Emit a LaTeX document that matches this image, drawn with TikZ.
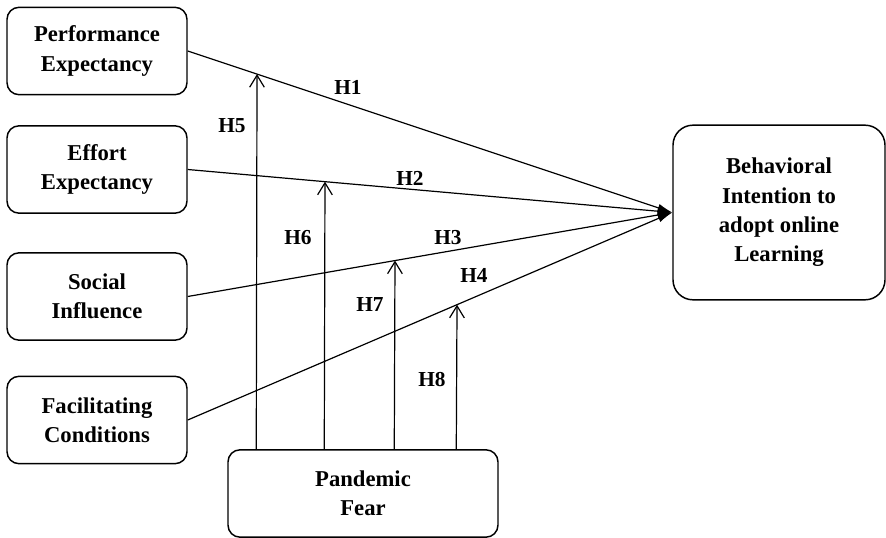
\documentclass[tikz,border=0pt]{standalone}
\usepackage{fontspec}
\setmainfont{Liberation Serif}
\usetikzlibrary{arrows.meta}

\tikzset{every picture/.style={line width=0.9pt}}
\tikzset{
  construct/.style={draw, line width=1.1pt, rounded corners=9pt, align=center, inner sep=0.75pt,
    minimum width=135pt, minimum height=65.5pt, font=\bfseries\fontsize{17}{22}\selectfont},
  hyp/.style={inner sep=0.75pt, font=\bfseries\fontsize{16}{19}\selectfont},
  direct/.style={-{Latex[length=11pt,width=6pt]}},
  moderate/.style={-{Straight Barb[length=9pt,width=11pt]}}
}

\begin{document}
\begin{tikzpicture}[x=0.75pt,y=0.75pt,yscale=-1,xscale=1]
\path[use as bounding box] (0,0) rectangle (886,538);

%Shape: Rounded Rect [id:pe]
\node[construct] (pe) at (97,51) {Performance\\Expectancy};
%Shape: Rounded Rect [id:ee]
\node[construct] (ee) at (97,169.5) {Effort\\Expectancy};
%Shape: Rounded Rect [id:si]
\node[construct] (si) at (97,296.5) {Social\\Influence};
%Shape: Rounded Rect [id:fc]
\node[construct] (fc) at (97,420) {Facilitating\\Conditions};
%Shape: Rounded Rect [id:pf]
\node[construct, minimum width=202.5pt] (pf) at (363,493.5) {Pandemic\\Fear};
%Shape: Rounded Rect [id:bi]
\node[construct, rounded corners=15pt, minimum width=159pt, minimum height=131pt] (bi) at (779,212.5) {Behavioral\\Intention to\\adopt online\\Learning};

%Straight Lines [id:h1]
\draw[direct] (pe.east) -- (bi.west);
%Straight Lines [id:h2]
\draw[direct] (ee.east) -- (bi.west);
%Straight Lines [id:h3]
\draw[direct] (si.east) -- (bi.west);
%Straight Lines [id:h4]
\draw[direct] (fc.east) -- (bi.west);

%Tips of the moderating arrows
\coordinate (h5tip) at (intersection of pe.east--bi.west and 257,0--257,450);
\coordinate (h6tip) at (intersection of ee.east--bi.west and 325,0--325,450);
\coordinate (h7tip) at (intersection of si.east--bi.west and 395,0--395,450);
\coordinate (h8tip) at (intersection of fc.east--bi.west and 457,0--457,450);

%Straight Lines [id:h5]
\draw[moderate] ([xshift=21.75pt]pf.north west) -- (h5tip);
%Straight Lines [id:h6]
\draw[moderate] ([xshift=72.75pt]pf.north west) -- (h6tip);
%Straight Lines [id:h7]
\draw[moderate] ([xshift=125.25pt]pf.north west) -- (h7tip);
%Straight Lines [id:h8]
\draw[moderate] ([xshift=171.75pt]pf.north west) -- (h8tip);

% Text Node
\node[hyp] (lh1) at (348,87) {H1};
% Text Node
\node[hyp] (lh2) at (410,178) {H2};
% Text Node
\node[hyp] (lh3) at (448,238) {H3};
% Text Node
\node[hyp] (lh4) at (474,275) {H4};
% Text Node
\node[hyp] (lh5) at (232,126) {H5};
% Text Node
\node[hyp] (lh6) at (298,238) {H6};
% Text Node
\node[hyp] (lh7) at (370,305) {H7};
% Text Node
\node[hyp] (lh8) at (432,380) {H8};

\end{tikzpicture}
\end{document}
